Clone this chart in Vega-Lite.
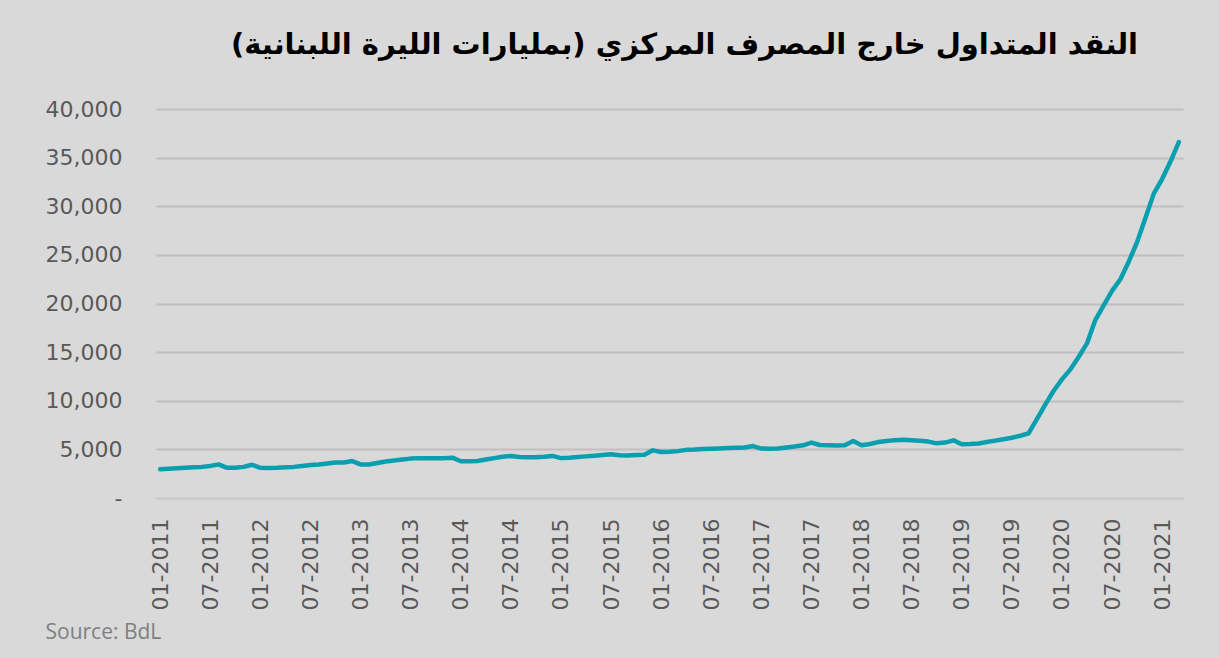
{
  "$schema": "https://vega.github.io/schema/vega-lite/v6.json",
  "autosize": {"type": "none"},
  "width": 1027,
  "height": 389,
  "padding": {"left": 156, "top": 109, "right": 36, "bottom": 160},
  "background": "#d9d9d9",
  "title": {
    "text": "‏النقد المتداول خارج المصرف المركزي   (بمليارات الليرة اللبنانية)‏",
    "font": "DejaVu Sans",
    "fontSize": 29,
    "fontWeight": "bold",
    "color": "#000000",
    "anchor": "middle",
    "frame": "group",
    "baseline": "middle",
    "dx": 15,
    "offset": 24
  },
  "config": {
    "view": {"stroke": null},
    "axis": {"labelFont": "DejaVu Sans", "labelFontSize": 22, "labelColor": "#595959"}
  },
  "data": {
    "values": [
      {"m": "01-2011", "v": 2950}, {"m": "02-2011", "v": 3000}, {"m": "03-2011", "v": 3050}, {"m": "04-2011", "v": 3100}, {"m": "05-2011", "v": 3150}, {"m": "06-2011", "v": 3200}, {"m": "07-2011", "v": 3300}, {"m": "08-2011", "v": 3450}, {"m": "09-2011", "v": 3100}, {"m": "10-2011", "v": 3100}, {"m": "11-2011", "v": 3200}, {"m": "12-2011", "v": 3420},
      {"m": "01-2012", "v": 3100}, {"m": "02-2012", "v": 3080}, {"m": "03-2012", "v": 3100}, {"m": "04-2012", "v": 3150}, {"m": "05-2012", "v": 3200}, {"m": "06-2012", "v": 3300}, {"m": "07-2012", "v": 3400}, {"m": "08-2012", "v": 3450}, {"m": "09-2012", "v": 3550}, {"m": "10-2012", "v": 3650}, {"m": "11-2012", "v": 3650}, {"m": "12-2012", "v": 3800},
      {"m": "01-2013", "v": 3450}, {"m": "02-2013", "v": 3450}, {"m": "03-2013", "v": 3600}, {"m": "04-2013", "v": 3750}, {"m": "05-2013", "v": 3850}, {"m": "06-2013", "v": 3950}, {"m": "07-2013", "v": 4050}, {"m": "08-2013", "v": 4100}, {"m": "09-2013", "v": 4100}, {"m": "10-2013", "v": 4100}, {"m": "11-2013", "v": 4100}, {"m": "12-2013", "v": 4150},
      {"m": "01-2014", "v": 3780}, {"m": "02-2014", "v": 3780}, {"m": "03-2014", "v": 3800}, {"m": "04-2014", "v": 3950}, {"m": "05-2014", "v": 4100}, {"m": "06-2014", "v": 4250}, {"m": "07-2014", "v": 4320}, {"m": "08-2014", "v": 4220}, {"m": "09-2014", "v": 4200}, {"m": "10-2014", "v": 4200}, {"m": "11-2014", "v": 4250}, {"m": "12-2014", "v": 4330},
      {"m": "01-2015", "v": 4100}, {"m": "02-2015", "v": 4150}, {"m": "03-2015", "v": 4220}, {"m": "04-2015", "v": 4280}, {"m": "05-2015", "v": 4350}, {"m": "06-2015", "v": 4420}, {"m": "07-2015", "v": 4500}, {"m": "08-2015", "v": 4400}, {"m": "09-2015", "v": 4380}, {"m": "10-2015", "v": 4420}, {"m": "11-2015", "v": 4450}, {"m": "12-2015", "v": 4900},
      {"m": "01-2016", "v": 4730}, {"m": "02-2016", "v": 4750}, {"m": "03-2016", "v": 4820}, {"m": "04-2016", "v": 4950}, {"m": "05-2016", "v": 4980}, {"m": "06-2016", "v": 5030}, {"m": "07-2016", "v": 5070}, {"m": "08-2016", "v": 5100}, {"m": "09-2016", "v": 5130}, {"m": "10-2016", "v": 5160}, {"m": "11-2016", "v": 5200}, {"m": "12-2016", "v": 5340},
      {"m": "01-2017", "v": 5080}, {"m": "02-2017", "v": 5070}, {"m": "03-2017", "v": 5080}, {"m": "04-2017", "v": 5200}, {"m": "05-2017", "v": 5300}, {"m": "06-2017", "v": 5420}, {"m": "07-2017", "v": 5700}, {"m": "08-2017", "v": 5450}, {"m": "09-2017", "v": 5420}, {"m": "10-2017", "v": 5400}, {"m": "11-2017", "v": 5420}, {"m": "12-2017", "v": 5860},
      {"m": "01-2018", "v": 5420}, {"m": "02-2018", "v": 5550}, {"m": "03-2018", "v": 5750}, {"m": "04-2018", "v": 5850}, {"m": "05-2018", "v": 5950}, {"m": "06-2018", "v": 6000}, {"m": "07-2018", "v": 5950}, {"m": "08-2018", "v": 5880}, {"m": "09-2018", "v": 5800}, {"m": "10-2018", "v": 5620}, {"m": "11-2018", "v": 5700}, {"m": "12-2018", "v": 5930},
      {"m": "01-2019", "v": 5520}, {"m": "02-2019", "v": 5550}, {"m": "03-2019", "v": 5600}, {"m": "04-2019", "v": 5750}, {"m": "05-2019", "v": 5900}, {"m": "06-2019", "v": 6050}, {"m": "07-2019", "v": 6200}, {"m": "08-2019", "v": 6400}, {"m": "09-2019", "v": 6650}, {"m": "10-2019", "v": 8100}, {"m": "11-2019", "v": 9600}, {"m": "12-2019", "v": 11000},
      {"m": "01-2020", "v": 12200}, {"m": "02-2020", "v": 13200}, {"m": "03-2020", "v": 14500}, {"m": "04-2020", "v": 15900}, {"m": "05-2020", "v": 18300}, {"m": "06-2020", "v": 19800}, {"m": "07-2020", "v": 21300}, {"m": "08-2020", "v": 22500}, {"m": "09-2020", "v": 24300}, {"m": "10-2020", "v": 26300}, {"m": "11-2020", "v": 28800}, {"m": "12-2020", "v": 31300},
      {"m": "01-2021", "v": 32800}, {"m": "02-2021", "v": 34600}, {"m": "03-2021", "v": 36600}
    ]
  },
  "mark": {"type": "line", "color": "#0a9fae", "strokeWidth": 4.5, "strokeJoin": "round", "strokeCap": "round"},
  "encoding": {
    "x": {
      "field": "m",
      "type": "ordinal",
      "sort": null,
      "scale": {"type": "point", "padding": 0.5},
      "axis": {
        "values": ["01-2011", "07-2011", "01-2012", "07-2012", "01-2013", "07-2013", "01-2014", "07-2014", "01-2015", "07-2015", "01-2016", "07-2016", "01-2017", "07-2017", "01-2018", "07-2018", "01-2019", "07-2019", "01-2020", "07-2020", "01-2021"],
        "labelAngle": -90,
        "labelAlign": "right",
        "labelBaseline": "middle",
        "labelPadding": 20,
        "labelOverlap": false,
        "ticks": false,
        "domain": true,
        "domainColor": "#cccccc",
        "domainWidth": 1,
        "grid": false,
        "title": "Source: BdL",
        "titleFont": "Open Sans",
        "titleFontSize": 21,
        "titleFontWeight": "normal",
        "titleColor": "#808080",
        "titleAnchor": "start",
        "titleAlign": "left",
        "titleBaseline": "middle",
        "titleX": -111,
        "titleY": 134
      }
    },
    "y": {
      "field": "v",
      "type": "quantitative",
      "scale": {"domain": [0, 40000], "nice": false},
      "axis": {
        "values": [0, 5000, 10000, 15000, 20000, 25000, 30000, 35000, 40000],
        "labelExpr": "datum.value == 0 ? '-' : format(datum.value, ',')",
        "labelPadding": 34,
        "ticks": false,
        "domain": false,
        "grid": true,
        "gridColor": "#bfbfbf",
        "gridWidth": 2,
        "title": null
      }
    }
  }
}
